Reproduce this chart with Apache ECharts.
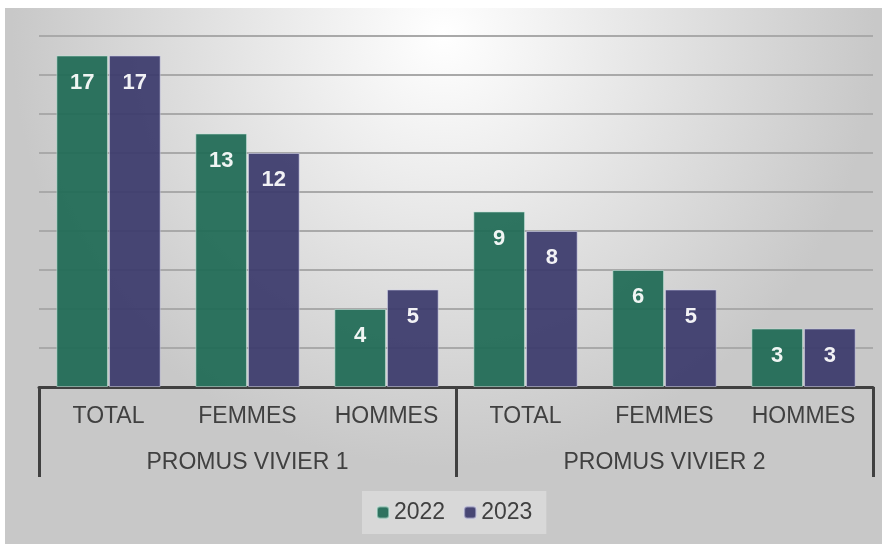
<!DOCTYPE html>
<html>
<head>
<meta charset="utf-8">
<script src="https://cdn.jsdelivr.net/npm/echarts@6/dist/echarts.min.js"></script>
<style>
  html, body { margin: 0; padding: 0; background: #ffffff; }
  #chart { width: 887px; height: 544px; }
</style>
</head>
<body>
<div id="chart"></div>
<script>
// données
const categories = ['TOTAL', 'FEMMES', 'HOMMES', 'TOTAL', 'FEMMES', 'HOMMES']
const groups = ['PROMUS VIVIER 1', 'PROMUS VIVIER 2']
const values2022 = [17, 13, 4, 9, 6, 3]
const values2023 = [17, 12, 5, 8, 5, 3]

const colors = {
  y2022: '#1f6b55',
  y2023: '#3b3a6c',
  axis: '#404040',
  grid: '#a9a9a9',
  text: '#404040'
}

const chart = echarts.init(document.getElementById('chart'))

const barLabel = {
  show: true,
  position: 'insideTop',
  distance: 16,
  color: '#ffffff',
  fontSize: 22,
  fontWeight: 'bold',
  fontFamily: 'Liberation Sans'
}

const option = {
  animation: false,
  textStyle: { fontFamily: 'Liberation Sans' },
  graphic: [
    {
      type: 'rect',
      z: -10,
      silent: true,
      shape: { x: 5, y: 8, width: 877, height: 540 },
      style: {
        fill: {
          type: 'radial',
          x: 0.5, y: 0.05, r: 0.8,
          colorStops: [
            { offset: 0, color: '#ffffff' },
            { offset: 1, color: '#c8c8c8' }
          ]
        }
      }
    }
  ],
  grid: {
    left: 39,
    right: 14,
    top: 36,
    bottom: 157
  },
  legend: {
    bottom: 10,
    left: 362,
    itemWidth: 12,
    itemHeight: 12,
    itemGap: 18,
    padding: [10, 14],
    backgroundColor: 'rgba(255,255,255,0.3)',
    textStyle: { fontSize: 23, color: colors.text },
    data: ['2022', '2023']
  },
  xAxis: [
    {
      type: 'category',
      data: categories,
      position: 'bottom',
      axisLine: { lineStyle: { color: colors.axis, width: 3 } },
      axisTick: { show: false },
      axisLabel: { fontSize: 23, color: colors.text, margin: 18, interval: 0 }
    },
    {
      type: 'category',
      data: groups,
      position: 'bottom',
      axisLine: { show: false },
      axisTick: { show: true, length: 90, lineStyle: { color: colors.axis, width: 3 } },
      axisLabel: { fontSize: 23, color: colors.text, margin: 64, interval: 0 }
    }
  ],
  yAxis: {
    type: 'value',
    min: 0,
    max: 18,
    interval: 2,
    axisLabel: { show: false },
    axisLine: { show: false },
    axisTick: { show: false },
    splitLine: { lineStyle: { color: colors.grid, width: 2 } }
  },
  series: [
    {
      name: '2022',
      type: 'bar',
      xAxisIndex: 0,
      data: values2022,
      barCategoryGap: '25%',
      barGap: '2%',
      itemStyle: { color: colors.y2022, opacity: 0.93, borderColor: 'rgba(200,230,220,0.6)', borderWidth: 1 },
      label: barLabel
    },
    {
      name: '2023',
      type: 'bar',
      xAxisIndex: 0,
      data: values2023,
      barCategoryGap: '25%',
      barGap: '2%',
      itemStyle: { color: colors.y2023, opacity: 0.93, borderColor: 'rgba(210,210,235,0.6)', borderWidth: 1 },
      label: barLabel
    }
  ]
}

chart.setOption(option)
window.addEventListener('resize', () => chart.resize())
</script>
</body>
</html>
